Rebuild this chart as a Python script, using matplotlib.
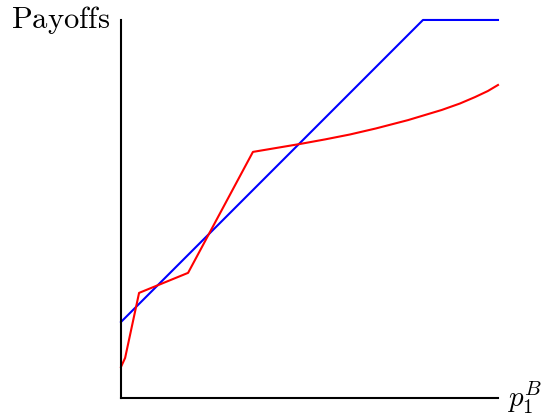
import matplotlib
matplotlib.use('Agg')
import matplotlib.pyplot as plt

plt.rcParams['mathtext.fontset'] = 'cm'

# blue payoff (piecewise linear, capped)
blue_x = [0.0, 0.801, 1.0]
blue_y = [0.201, 1.0, 1.0]

# red payoff
red_x = [0.0, 0.011, 0.048, 0.178, 0.350, 0.475, 0.541, 0.607, 0.676, 0.761, 0.851, 0.899, 0.939, 0.973, 1.0]
red_y = [0.082, 0.106, 0.278, 0.331, 0.651, 0.672, 0.684, 0.697, 0.713, 0.735, 0.762, 0.779, 0.796, 0.812, 0.828]

fig = plt.figure(figsize=(5.42, 4.17), dpi=100)
ax = fig.add_axes([0.2232, 0.0456, 0.6956, 0.9065])

ax.plot(blue_x, blue_y, color='blue', lw=1.5, clip_on=False)
ax.plot(red_x, red_y, color='red', lw=1.5, clip_on=False)

ax.set_xlim(0, 1)
ax.set_ylim(0, 1)
for s in ['top', 'right']:
    ax.spines[s].set_visible(False)
for s in ['left', 'bottom']:
    ax.spines[s].set_linewidth(1.5)
ax.set_xticks([])
ax.set_yticks([])

ax.text(-0.03, 1.0, r'$\mathrm{Payoffs}$', transform=ax.transAxes,
        ha='right', va='center', fontsize=22)
ax.text(1.025, 0.0, r'$p_1^B$', transform=ax.transAxes,
        ha='left', va='center', fontsize=21)

fig.savefig('out.png', dpi=100)
